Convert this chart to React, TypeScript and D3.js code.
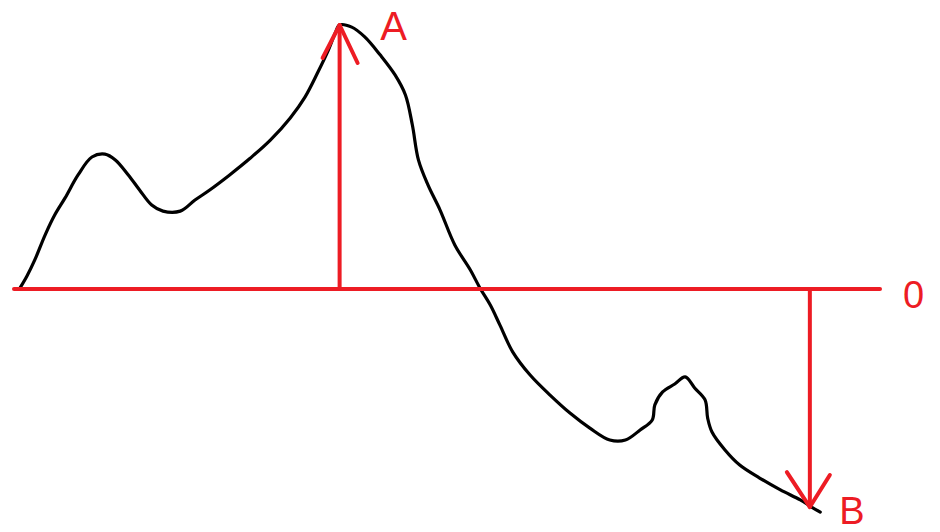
import React from "react";
import * as d3 from "d3";

// Signal trace: horizontal position and signed amplitude (0 = reference line)
const traceX = [
  0.7, 1.5, 2.4, 3.6, 4.7, 5.9, 7.4, 9.0, 10.5, 11.7, 13.2, 14.5, 15.9, 17.2, 19.2,
  20.9, 22.6, 24.9, 27.3, 29.6, 31.9, 33.6, 35.1, 36.3, 37.1, 37.6, 39.0, 40.5, 42.3,
  44.0, 45.2, 46.0, 46.7, 47.8, 49.2, 50.9, 52.7, 53.8, 55.0, 56.1, 57.6, 59.6, 61.9,
  64.2, 66.5, 68.8, 70.6, 72.3, 73.7, 74.0, 74.9, 76.3, 77.5, 78.6, 79.8, 80.1, 80.6,
  82.1, 83.8, 86.1, 88.5, 90.8, 92.1, 93.1,
];
const traceY = [
  0.4, 4.9, 11.0, 20.5, 28.0, 34.5, 43.2, 50.0, 51.1, 48.9, 43.2, 37.5, 31.8, 29.5, 29.5,
  33.7, 37.5, 43.2, 49.6, 56.4, 64.8, 72.7, 82.2, 90.5, 97.0, 100.0, 99.2, 95.5, 88.6,
  81.1, 73.5, 62.1, 48.9, 39.4, 29.9, 16.7, 7.2, 0.4, -6.1, -13.6, -23.9, -32.6, -40.2,
  -47.0, -52.7, -57.2, -57.2, -53.4, -49.6, -43.9, -39.0, -36.0, -33.3, -37.5, -42.0,
  -48.9, -54.2, -61.0, -66.7, -71.6, -76.1, -79.9, -82.6, -84.5,
];

// Marked extremes: label, position, amplitude
const markerLabels = ["A", "B"];
const markerX = [37.6, 91.9];
const markerY = [100, -82.6];

const baselineLabel = "0";
const baselineDomain = [0, 100];

const RED = "#ed1c24";
const W = 940;
const H = 532;

export default function App() {
  const x = d3.scaleLinear().domain([0, 100]).range([14, 880]);
  const y = d3.scaleLinear().domain([0, 100]).range([289, 25]);

  const pts: [number, number][] = traceX.map((v, i) => [v, traceY[i]]);
  const line = d3
    .line<[number, number]>()
    .x((d) => x(d[0]))
    .y((d) => y(d[1]))
    .curve(d3.curveCatmullRom.alpha(0.5));

  const font = "'Liberation Sans', Arial, sans-serif";

  // arrowhead arm offsets (px) for each marker
  const arms = [
    [
      [-17, 33],
      [18, 38],
    ],
    [
      [-23, -35],
      [20, -32],
    ],
  ];
  const labelOffsets = [
    [54, 15],
    [42, 17],
  ];
  const labelSizes = [40, 38];

  return (
    <svg
      width={W}
      height={H}
      style={{ position: "absolute", left: 0, top: 0, background: "#fff", display: "block" }}
    >
      <rect x={0} y={0} width={W} height={H} fill="#fff" />
      <path
        d={line(pts) || ""}
        fill="none"
        stroke="#000"
        strokeWidth={3.2}
        strokeLinejoin="round"
        strokeLinecap="round"
      />
      <line
        x1={x(baselineDomain[0])}
        x2={x(baselineDomain[1])}
        y1={y(0)}
        y2={y(0)}
        stroke={RED}
        strokeWidth={4}
        strokeLinecap="round"
      />
      <text
        x={x(baselineDomain[1]) + 23}
        y={y(0) + 19}
        fill={RED}
        fontFamily={font}
        fontSize={38}
      >
        {baselineLabel}
      </text>
      {markerLabels.map((lab, i) => {
        const mx = x(markerX[i]);
        const my = y(markerY[i]);
        return (
          <g key={lab}>
            <line x1={mx} x2={mx} y1={y(0)} y2={my} stroke={RED} strokeWidth={4} />
            {arms[i].map((a, j) => (
              <line
                key={j}
                x1={mx}
                y1={my}
                x2={mx + a[0]}
                y2={my + a[1]}
                stroke={RED}
                strokeWidth={4}
                strokeLinecap="round"
              />
            ))}
            <text
              x={mx + labelOffsets[i][0]}
              y={my + labelOffsets[i][1]}
              fill={RED}
              fontFamily={font}
              fontSize={labelSizes[i]}
              textAnchor="middle"
            >
              {lab}
            </text>
          </g>
        );
      })}
    </svg>
  );
}
